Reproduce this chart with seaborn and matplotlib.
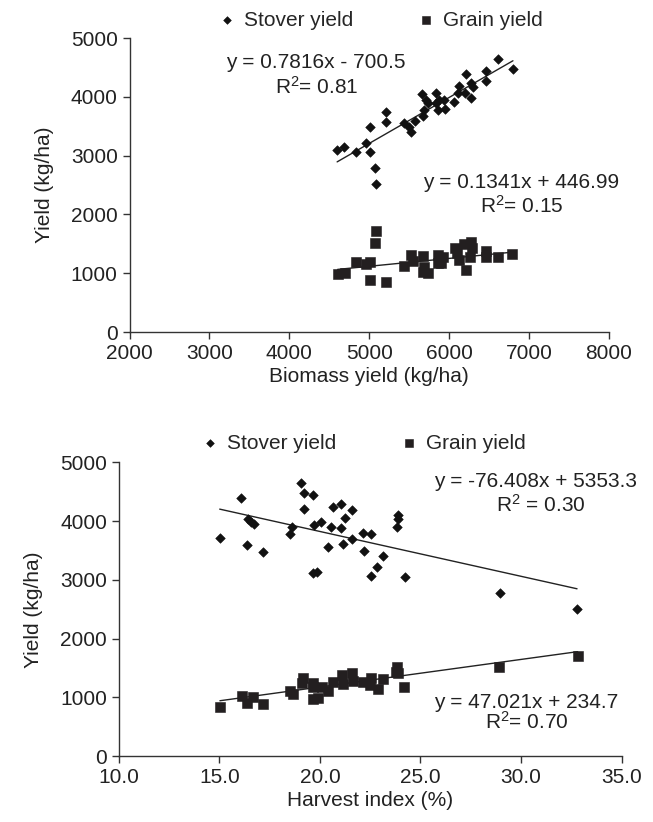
import numpy as np
import pandas as pd
import matplotlib
matplotlib.use("Agg")
import matplotlib.pyplot as plt
import seaborn as sns

# ---------------- data ----------------
# Top panel: biomass yield (kg/ha) vs yield (kg/ha)
stover_biomass = [4598, 4681, 4831, 4956, 5015, 5015, 5069, 5081, 5215, 5206, 5431, 5498, 5528,
                  5569, 5673, 5681, 5665, 5715, 5735, 5840, 5831, 5873, 5860, 5944, 5931, 6056,
                  6110, 6123, 6194, 6206, 6278, 6298, 6278, 6456, 6456, 6610, 6798]
stover_yield_a = [3095, 3141, 3066, 3209, 3491, 3066, 2784, 2517, 3736, 3577, 3560, 3481, 3406,
                  3594, 3673, 3776, 4042, 3946, 3889, 4060, 3889, 3946, 3776, 3787, 3946, 3906,
                  4060, 4189, 4070, 4388, 4230, 4172, 3974, 4439, 4274, 4643, 4468]
grain_biomass = [4603, 4694, 4828, 4956, 5015, 5081, 5069, 5015, 5215, 5431, 5519, 5548, 5673,
                 5685, 5673, 5735, 5860, 5860, 5923, 5903, 6069, 6098, 6123, 6181, 6278, 6290,
                 6265, 6206, 6456, 6456, 6610, 6790]
grain_yield_a = [986, 998, 1185, 1156, 1185, 1718, 1519, 889, 850, 1128, 1310, 1213, 1293,
                 1111, 1026, 1009, 1310, 1179, 1281, 1179, 1423, 1338, 1224, 1491, 1536, 1423,
                 1281, 1054, 1383, 1270, 1270, 1332]

# Bottom panel: harvest index (%) vs yield (kg/ha)
stover_hi = [19.08, 19.19, 19.64, 16.09, 19.19, 20.67, 21.06, 21.61, 21.25, 16.41, 16.58, 16.72,
             18.63, 19.71, 20.07, 20.54, 21.06, 18.50, 15.02, 21.61, 22.16, 22.52, 16.36, 17.17,
             20.40, 21.13, 22.21, 19.67, 19.84, 22.85, 22.54, 23.90, 23.90, 23.82, 23.15, 24.23,
             28.95, 32.78]
stover_yield_b = [4646, 4486, 4441, 4390, 4203, 4237, 4288, 4186, 4049, 4032, 3991, 3952,
                  3901, 3940, 3986, 3901, 3884, 3777, 3719, 3692, 3794, 3782, 3589, 3475,
                  3560, 3612, 3497, 3112, 3140, 3215, 3072, 4106, 4032, 3906, 3407, 3055,
                  2772, 2504]
grain_hi = [15.03, 16.11, 16.36, 16.69, 17.19, 18.51, 18.65, 19.17, 19.10, 19.64, 19.67, 19.64,
            19.92, 20.09, 20.42, 20.64, 21.08, 21.16, 21.61, 21.66, 22.13, 22.52, 22.49, 22.87,
            23.15, 23.82, 23.78, 23.90, 24.18, 28.92, 32.81]
grain_yield_b = [830, 1027, 898, 1000, 886, 1107, 1056, 1334, 1249, 1249, 1170, 966,
                 983, 1181, 1112, 1266, 1380, 1227, 1409, 1283, 1266, 1324, 1210, 1141,
                 1307, 1521, 1436, 1419, 1181, 1521, 1709]

# Fitted trend lines as printed on the chart (slope, intercept)
fit_top_stover = (0.7816, -700.5)
fit_top_grain = (0.1341, 446.99)
fit_bot_stover = (-76.408, 5353.3)
fit_bot_grain = (47.021, 234.7)

series_labels = ["Stover yield", "Grain yield"]
eq_top = ["y = 0.7816x - 700.5", "R$^2$= 0.81", "y = 0.1341x + 446.99", "R$^2$= 0.15"]
eq_bot = ["y = -76.408x + 5353.3", "R$^2$ = 0.30", "y = 47.021x + 234.7", "R$^2$= 0.70"]
yticks = [0, 1000, 2000, 3000, 4000, 5000]
xticks_top = [2000, 3000, 4000, 5000, 6000, 7000, 8000]
xticks_bot = [10.0, 15.0, 20.0, 25.0, 30.0, 35.0]

# ---------------- style ----------------
sns.set_theme(style="ticks")
plt.rcParams["font.family"] = ["Liberation Sans", "DejaVu Sans"]
FS = 15
plt.rcParams.update({
    "mathtext.fontset": "custom",
    "mathtext.rm": "Liberation Sans",
    "mathtext.it": "Liberation Sans",
    "mathtext.default": "regular",
    "axes.linewidth": 1.0,
    "xtick.major.size": 5, "ytick.major.size": 5,
    "xtick.major.width": 1.0, "ytick.major.width": 1.0,
    "xtick.labelsize": FS, "ytick.labelsize": FS,
    "axes.edgecolor": "#333333",
    "xtick.color": "#333333", "ytick.color": "#333333",
    "xtick.labelcolor": "#222222", "ytick.labelcolor": "#222222",
})

W, H = 653, 822
fig = plt.figure(figsize=(W / 100, H / 100), dpi=100)


def px_axes(l, t, r, b):
    return fig.add_axes([l / W, 1 - b / H, (r - l) / W, (b - t) / H])


DIAM_COLOR = "#111111"
SQ_COLOR = "#231f20"


def panel(ax, xs, ys, xg, yg, fit_s, fit_g, xlim, xticks, xfmt, xlabel, eqs, eqpos, leg_anchor):
    sns.scatterplot(x=xs, y=ys, ax=ax, marker="D", s=24, color=DIAM_COLOR,
                    edgecolor=DIAM_COLOR, linewidth=0.4, label=series_labels[0], zorder=3)
    sns.scatterplot(x=xg, y=yg, ax=ax, marker="s", s=42, color=SQ_COLOR,
                    edgecolor=SQ_COLOR, linewidth=0.4, label=series_labels[1], zorder=3)
    for (m, c), xd in ((fit_s, xs), (fit_g, xg)):
        xr = np.array([min(xd), max(xd)])
        sns.lineplot(x=xr, y=m * xr + c, ax=ax, color="#222222", linewidth=1.0, zorder=2)
    ax.set_xlim(*xlim)
    ax.set_ylim(0, 5000)
    ax.set_xticks(xticks)
    ax.set_xticklabels([xfmt(v) for v in xticks])
    ax.set_yticks(yticks)
    ax.set_yticklabels([str(v) for v in yticks])
    ax.set_xlabel(xlabel, fontsize=FS, color="#222222", labelpad=3)
    ax.set_ylabel("Yield (kg/ha)", fontsize=FS, color="#222222", labelpad=12)
    sns.despine(ax=ax)
    for txt, (xp, yp) in zip(eqs, eqpos):
        xd, yd = ax.transData.inverted().transform(
            fig.transFigure.transform((xp / W, 1 - yp / H)))
        ax.text(xd, yd, txt, fontsize=FS, ha="center", va="center", color="#222222")
    h, lab = ax.get_legend_handles_labels()
    ax.legend(h[:2], lab[:2], ncol=2, frameon=False, loc="center",
              bbox_to_anchor=leg_anchor, fontsize=FS, handletextpad=0.3,
              columnspacing=3.0, markerscale=0.8, handlelength=1.0,
              borderaxespad=0)


ax1 = px_axes(129.5, 38, 609, 332)
panel(ax1, stover_biomass, stover_yield_a, grain_biomass, grain_yield_a,
      fit_top_stover, fit_top_grain, (2000, 8000), xticks_top, lambda v: f"{v:d}",
      "Biomass yield (kg/ha)", eq_top,
      [(316, 63), (317, 87), (521, 182), (522, 206)], (0.522, 1.06))

ax2 = px_axes(118.7, 462.5, 621.7, 756)
panel(ax2, stover_hi, stover_yield_b, grain_hi, grain_yield_b,
      fit_bot_stover, fit_bot_grain, (10, 35), xticks_bot, lambda v: f"{v:.1f}",
      "Harvest index (%)", eq_bot,
      [(536, 482), (541, 505), (526, 702), (527, 722)], (0.485, 1.066))

fig.savefig("out.png", dpi=100)
